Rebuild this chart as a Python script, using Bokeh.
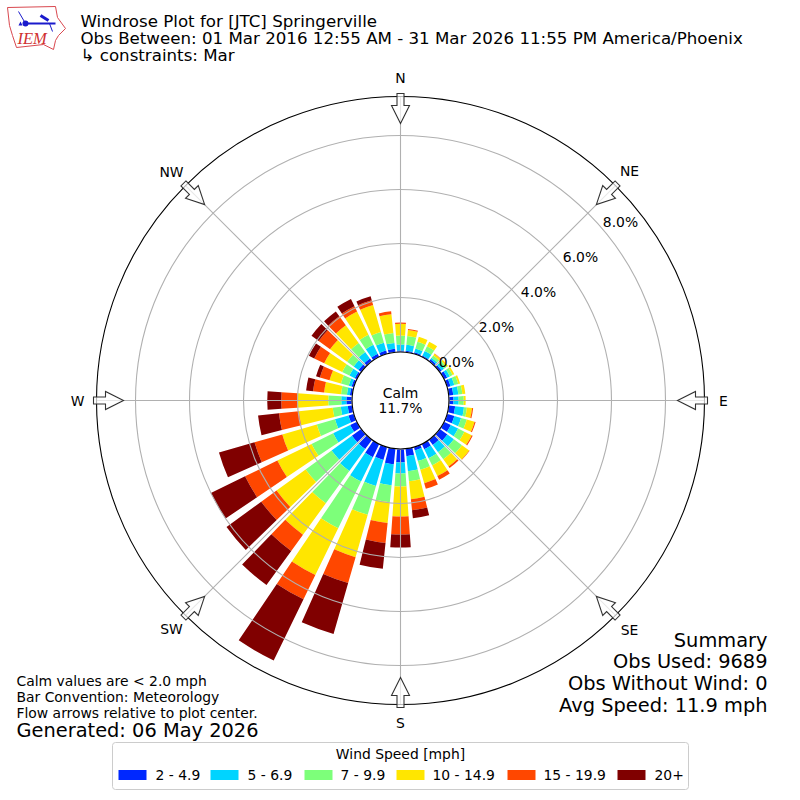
import math
from bokeh.plotting import figure
from bokeh.models import Range1d, ColumnDataSource
from bokeh.core.properties import value
from bokeh.embed import file_html
from bokeh.resources import INLINE

directions = list(range(0, 360, 10))
bins = ["2 - 4.9", "5 - 6.9", "7 - 9.9", "10 - 14.9", "15 - 19.9", "20+"]
colors = ["#0028ff", "#00d4ff", "#7dff7a", "#ffe600", "#ff4700", "#800000"]
s_2_5 = [.04,.04,.04,.04,.07,.07,.11,.11,.15,.15,.22,.26,.26,.33,.22,.19,.11,.26,.48,.56,.48,.52,.41,.41,.26,.19,.15,.19,.07,.07,.07,.11,.11,.11,.11,.11]
s_5_7 = [.22,.22,.15,.19,.07,.11,.11,.15,.19,.19,.33,.26,.30,.30,.33,.37,.41,.56,.41,.78,1.0,1.0,1.0,.93,.70,.52,.26,.19,.11,.11,.22,.22,.30,.37,.30,.22]
s_7_10 = [.33,.33,.26,.19,.11,.11,.11,.15,.15,.19,.11,.22,.26,.37,.33,.30,.33,.37,.48,.63,1.11,1.93,1.48,1.19,.89,.70,.30,.48,.22,.30,.30,.30,.41,.41,.41,.37]
s_10_15 = [.44,.22,.19,.19,.07,.07,.07,.07,.11,.07,.19,.30,.30,.33,.33,.44,.52,.67,1.11,.78,1.63,1.93,1.44,1.33,1.41,1.33,1.26,1.15,.63,.44,.74,.78,.81,.96,1.04,.70]
s_15_20 = [.04,.04,0,0,.02,0,0,0,0,0,.04,.04,.04,.02,.07,.15,.22,.41,.67,.74,1.0,1.0,.74,.70,1.33,1.07,.74,.59,.41,.37,.41,.52,.41,.22,.19,.11]
s_20 = [0,0,0,0,0,0,0,0,0,0,0,0,0,0,0,0,0,.30,.48,.96,1.96,2.52,1.56,1.59,1.41,1.37,.78,.52,.26,.15,.22,.33,.22,.30,.15,0]
series = [s_2_5, s_5_7, s_7_10, s_10_15, s_15_20, s_20]

rings = [0, 2, 4, 6, 8]
ring_labels = ["0.0%", "2.0%", "4.0%", "6.0%", "8.0%"]
compass = ["N", "NE", "E", "SE", "S", "SW", "W", "NW"]
compass_deg = [0, 45, 90, 135, 180, 225, 270, 315]
title_lines = ["Windrose Plot for [JTC] Springerville",
               "Obs Between: 01 Mar 2016 12:55 AM - 31 Mar 2026 11:55 PM America/Phoenix",
               " \u21b3 constraints: Mar"]
note_lines = ["Calm values are < 2.0 mph", "Bar Convention: Meteorology", "Flow arrows relative to plot center."]
summary_lines = ["Summary", "Obs Used: 9689", "Obs Without Wind: 0", "Avg Speed: 11.9 mph"]

PX = 27.0           # pixels per percent
R0 = 49 / PX        # radial origin in percent units
ROUT = 304 / PX
BW = 8.0            # bar width in degrees

def X(px): return (px - 400) / PX
def Y(py): return (400 - py) / PX

p = figure(width=800, height=800, x_range=Range1d(X(0), X(800)), y_range=Range1d(Y(800), Y(0)),
           x_axis_type=None, y_axis_type=None, toolbar_location=None, output_backend="svg",
           min_border=0, outline_line_color=None, background_fill_color="white")
p.grid.visible = False

# stacked bars
base = [0.0] * len(directions)
for vals, col in zip(series, colors):
    src = ColumnDataSource(dict(
        x=[0.0] * len(directions), y=[0.0] * len(directions),
        inner=[R0 + b for b in base], outer=[R0 + b + v for b, v in zip(base, vals)],
        start=[math.radians(90 - d - BW / 2) for d in directions],
        end=[math.radians(90 - d + BW / 2) for d in directions]))
    p.annular_wedge("x", "y", "inner", "outer", "start", "end", source=src,
                    fill_color=col, line_color=None)
    base = [b + v for b, v in zip(base, vals)]

# grid
GRID = "#b0b0b0"
p.circle(x=[0] * 4, y=[0] * 4, radius=[R0 + r for r in rings[1:]], fill_color=None,
         line_color=GRID, line_width=1.1)
rad = [math.radians(90 - d) for d in compass_deg]
p.segment(x0=[R0 * math.cos(a) for a in rad], y0=[R0 * math.sin(a) for a in rad],
          x1=[ROUT * math.cos(a) for a in rad], y1=[ROUT * math.sin(a) for a in rad],
          line_color=GRID, line_width=1.1)
p.circle(x=[0], y=[0], radius=[R0 - 0.02], fill_color="white", line_color="black", line_width=1.1)
p.circle(x=[0], y=[0], radius=[ROUT], fill_color=None, line_color="black", line_width=1.1)

# flow arrows
shape = [(307, 3.5), (295, 3.5), (295, 9), (277, 0), (295, -9), (295, -3.5), (307, -3.5)]
xs, ys = [], []
for d in compass_deg:
    a = math.radians(d)
    ux, uy = math.sin(a), math.cos(a)
    vx, vy = uy, -ux
    xs.append([(r * ux + w * vx) / PX for r, w in shape])
    ys.append([(r * uy + w * vy) / PX for r, w in shape])
p.patches(xs, ys, fill_color="white", fill_alpha=0.7, line_color="#333333", line_width=1.1, line_join="miter")

FONT = value("DejaVu Sans")
def txt(x, y, t, size, align="left", color="black", font=FONT, style="normal"):
    p.text(x=[X(v) for v in x], y=[Y(v) for v in y], text=t, text_font=font, text_font_size=size,
           text_align=align, text_baseline="middle", text_color=color, text_font_style=style)

# compass labels
txt([400, 629, 723, 629, 400, 171, 77, 171], [77, 170, 400, 629, 722, 628, 400, 171], compass, "13.9px", "center")
# ring labels
txt([456, 496, 538, 580, 620], [361, 326, 291, 256, 221], ring_labels, "13.9px", "center")
txt([400, 400], [392, 407], ["Calm", "11.7%"], "13.9px", "center")
# titles and notes
txt([80, 80, 80], [21, 38, 55], title_lines, "16.67px")
txt([16, 16, 16], [680, 696, 712], note_lines, "13.9px")
txt([16], [730], ["Generated: 06 May 2026"], "19.4px")
txt([767] * 4, [640, 661, 683, 705], summary_lines, "19.4px", "right")

# legend
p.quad(left=[X(112)], right=[X(688)], top=[Y(742)], bottom=[Y(789)], fill_color="white",
       fill_alpha=0.8, line_color="#cccccc", line_width=1, border_radius=3)
txt([400], [753], ["Wind Speed [mph]"], "13.9px", "center")
sw_left = [118, 210, 304, 396, 507, 617]
tx_left = [155, 247, 340, 432, 543, 654]
p.quad(left=[X(v) for v in sw_left], right=[X(v + 28) for v in sw_left],
       top=[Y(769.5)] * 6, bottom=[Y(779.5)] * 6, fill_color=colors, line_color=None)
txt(tx_left, [774.5] * 6, bins, "13.9px")

# IEM logo
RED = "#d9484f"
BLUE = "#1a1acc"
p.line([X(v) for v in [7, 55, 57, 65, 58, 55, 53, 43, 16, 12, 9, 7]],
       [Y(v) for v in [7, 6, 17, 28, 35, 40, 49, 44, 47, 35, 25, 7]], line_color=RED, line_width=1)
p.line([X(v) for v in [25, 55]], [Y(v) for v in [23, 23]], line_color=BLUE, line_width=2.2)
p.line([X(v) for v in [18, 25]], [Y(v) for v in [11, 23]], line_color=BLUE, line_width=1)
p.line([X(v) for v in [40, 48]], [Y(v) for v in [15, 20]], line_color=BLUE, line_width=3)
p.line([X(v) for v in [49, 52]], [Y(v) for v in [23, 31]], line_color=BLUE, line_width=1)
p.circle(x=[X(25)], y=[Y(23)], radius=3 / PX, fill_color=BLUE, line_color=None)
p.patch([X(v) for v in [18, 20, 22]], [Y(v) for v in [25, 21, 25]], fill_color=BLUE, line_color=None)
txt([17], [38], ["IEM"], "16.5px", color="#d03030", font=value("Liberation Serif"), style="italic")

open("out.html", "w").write(file_html(p, INLINE))
